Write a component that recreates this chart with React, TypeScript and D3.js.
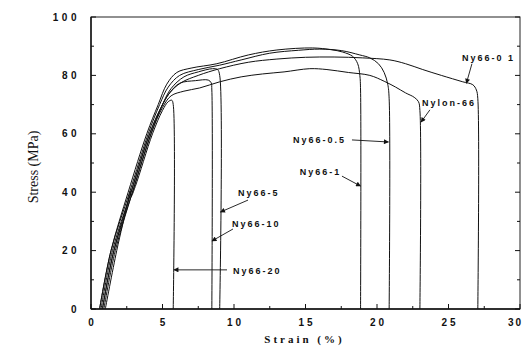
import React from "react";
import * as d3 from "d3";

// ---- data (strain %, stress MPa) ----
const nylon66: [number, number][] = [[0.8,0],[1.6,20],[2.9,40],[4.2,60],[5.0,69],[5.6,73],[6.5,74.6],[7.6,75.7],[9,77.8],[10.5,79.5],[12,80.5],[13.5,81.2],[15.3,82.3],[16.5,82],[18,81],[19.5,80],[20.5,78],[21.3,76],[22,74],[22.6,72.5],[22.9,71],[23.0,68],[23.0,0]];
const ny66_01: [number, number][] = [[0.7,0],[1.5,20],[2.8,40],[4.1,60],[4.9,69],[5.5,74],[6.3,77.5],[7.5,80],[9,82.3],[11,84.5],[13,85.6],[15,86.2],[17,86.3],[19,86],[20.9,85.3],[22,84],[23.2,82],[24.5,80],[26,77.8],[26.7,76.8],[26.95,75],[27.05,72],[27.05,0]];
const ny66_05: [number, number][] = [[0.6,0],[1.4,20],[2.7,40],[4.0,60],[4.8,70],[5.4,76],[6.2,80],[7.5,82],[9,83.5],[10.5,85.3],[12.5,87.6],[14.5,88.6],[16,89],[17.5,88.5],[18.8,87],[19.5,86],[20.1,84],[20.5,81],[20.75,77],[20.85,72],[20.85,0]];
const ny66_1: [number, number][] = [[0.6,0],[1.4,20],[2.6,40],[3.9,60],[4.7,70],[5.3,77],[6.0,81],[7.0,82.5],[8.8,84],[11,87],[13,88.7],[15.5,89.4],[16.8,88.8],[17.6,88],[18.3,86.5],[18.65,84],[18.8,80],[18.85,75],[18.85,0]];
const ny66_5: [number, number][] = [[0.9,0],[1.7,20],[2.9,40],[4.2,60],[5.0,70],[5.6,75.5],[6.5,79.5],[7.5,81.2],[8.5,82.3],[8.85,82],[9.0,80],[9.0,0]];
const ny66_10: [number, number][] = [[0.8,0],[1.6,20],[2.8,40],[4.1,60],[4.9,69],[5.5,74],[6.2,77.3],[7.3,78.2],[8.2,78.4],[8.4,77.5],[8.45,75],[8.45,0]];
const ny66_20: [number, number][] = [[1.0,0],[1.8,20],[2.55,36],[2.75,40.5],[2.8,38.5],[3.1,42],[4.3,60],[5.0,68],[5.4,71],[5.65,71.5],[5.75,70],[5.75,0]];

const series = [nylon66, ny66_01, ny66_05, ny66_1, ny66_5, ny66_10, ny66_20];

const xTicks = [0, 5, 10, 15, 20, 25, 30];
const yTicks = [0, 20, 40, 60, 80, 100];
const xMinor = [2.5, 7.5, 12.5, 17.5, 22.5, 27.5];
const yMinor = [10, 30, 50, 70, 90];

// annotations: label, text position, arrow tail, arrow tip (data coords)
const labels = ["Ny66-0 1", "Nylon-66", "Ny66-0.5", "Ny66-1", "Ny66-5", "Ny66-10", "Ny66-20"];
const labelPos: [number, number][] = [[25.94, 84.9], [23.15, 69.5], [14.13, 56.8], [14.6, 45.9], [10.28, 38.7], [9.86, 28.1], [9.93, 12.0]];
const arrowFrom: [number, number][] = [[26.64, 84.0], [23.7, 68.2], [18.25, 57.9], [17.55, 45.5], [10.98, 37.3], [9.93, 27.4], [9.51, 13.4]];
const arrowTo: [number, number][] = [[26.25, 77.3], [23.08, 64.0], [20.8, 57.2], [18.85, 42.1], [9.05, 33.2], [8.46, 23.3], [5.8, 13.4]];

const W = 524, H = 349;
const left = 91, right = 520, top = 17, bottom = 309;

export default function App() {
  const x = d3.scaleLinear().domain([0, 30]).range([left, right]);
  const y = d3.scaleLinear().domain([0, 100]).range([bottom, top]);
  const line = d3.line<[number, number]>().x(d => x(d[0])).y(d => y(d[1])).curve(d3.curveCatmullRom.alpha(0.5));
  const tickFont = "Arial, 'Liberation Sans', sans-serif";

  return (
    <svg width={W} height={H} style={{ position: "absolute", left: 0, top: 0, background: "#fff" }}>
      <defs>
        <marker id="ah" viewBox="0 0 10 10" refX="9" refY="5" markerWidth="6" markerHeight="5" orient="auto" markerUnits="userSpaceOnUse">
          <path d="M0,0 L10,5 L0,10 z" fill="#111" />
        </marker>
      </defs>
      {/* frame */}
      <rect x={left} y={top} width={right - left} height={bottom - top} fill="none" stroke="#222" strokeWidth={1} />
      <line x1={left} x2={right} y1={bottom} y2={bottom} stroke="#111" strokeWidth={1.6} />
      <line x1={left} x2={left} y1={top} y2={bottom} stroke="#111" strokeWidth={1.4} />
      {/* ticks */}
      {yTicks.map(t => (
        <g key={"y" + t}>
          <line x1={left} x2={left + 5} y1={y(t)} y2={y(t)} stroke="#111" />
          <line x1={right} x2={right - 5} y1={y(t)} y2={y(t)} stroke="#111" />
          <text x={left - 11} y={y(t)} dy="0.35em" textAnchor="end" fontFamily={tickFont} fontWeight="bold" fontSize={10} letterSpacing={3.5} fill="#111">{t}</text>
        </g>
      ))}
      {yMinor.map(t => (
        <g key={"ym" + t}>
          <line x1={left} x2={left + 3} y1={y(t)} y2={y(t)} stroke="#111" />
          <line x1={right} x2={right - 3} y1={y(t)} y2={y(t)} stroke="#111" />
        </g>
      ))}
      {xTicks.map((t, i) => (
        <g key={"x" + t}>
          <line x1={x(t)} x2={x(t)} y1={bottom} y2={bottom - 5} stroke="#111" />
          <text x={i === xTicks.length - 1 ? W - 1 : x(t) + 1.5} y={bottom + 17} textAnchor={i === xTicks.length - 1 ? "end" : "middle"} fontFamily={tickFont} fontWeight="bold" fontSize={10} letterSpacing={i === xTicks.length - 1 ? 2 : 3} fill="#111">{t}</text>
        </g>
      ))}
      {xMinor.map(t => (
        <line key={"xm" + t} x1={x(t)} x2={x(t)} y1={bottom} y2={bottom - 3} stroke="#111" />
      ))}
      {/* axis titles */}
      <text transform={`translate(38,${(top + bottom) / 2 + 4}) rotate(-90)`} textAnchor="middle" fontFamily="'Liberation Serif', 'Times New Roman', serif" fontSize={14} fill="#111">Stress (MPa)</text>
      <text x={(left + right) / 2 - 1} y={343} textAnchor="middle" fontFamily="'Liberation Serif', 'Times New Roman', serif" fontWeight="bold" fontSize={11} letterSpacing={3} fill="#111">Strain (%)</text>
      {/* curves */}
      {series.map((s, i) => (
        <path key={i} d={line(s) || ""} fill="none" stroke="#111" strokeWidth={1} />
      ))}
      {/* annotations */}
      {labels.map((l, i) => (
        <g key={l}>
          <text x={x(labelPos[i][0])} y={y(labelPos[i][1])} fontFamily={tickFont} fontWeight="bold" fontSize={9} letterSpacing={2} fill="#111">{l}</text>
          <line x1={x(arrowFrom[i][0])} y1={y(arrowFrom[i][1])} x2={x(arrowTo[i][0])} y2={y(arrowTo[i][1])} stroke="#111" strokeWidth={0.9} markerEnd="url(#ah)" />
        </g>
      ))}
    </svg>
  );
}
